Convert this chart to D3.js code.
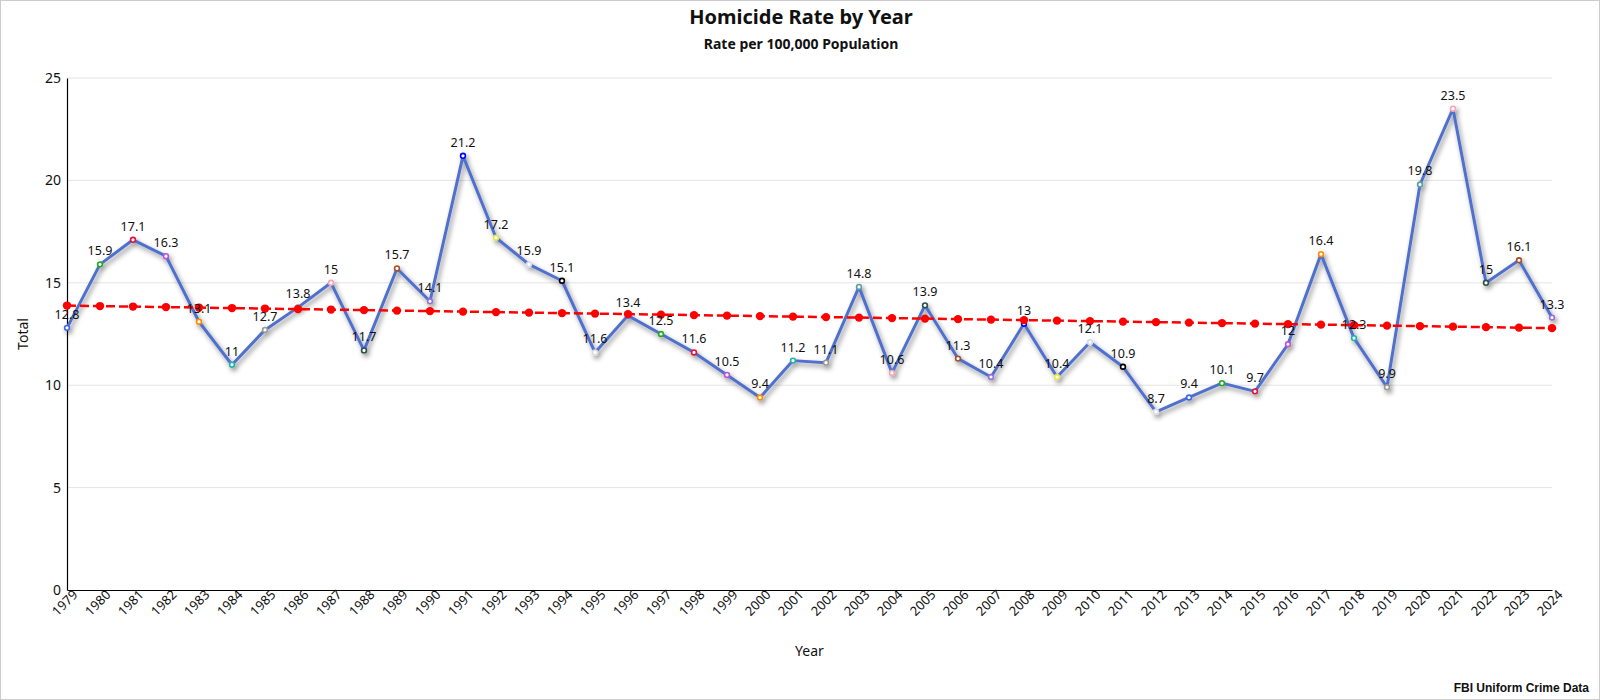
<!DOCTYPE html>
<html>
<head>
<meta charset="utf-8">
<script src="https://cdn.jsdelivr.net/npm/d3@7"></script>
<style>
    html, body { margin: 0; padding: 0; background: #fff; }
    #chart { width: 1598px; height: 698px; border: 1px solid #ccc; }
    text { font-family: "Noto Sans", "Open Sans", sans-serif; fill: #111; }
</style>
</head>
<body>
<div id="chart"></div>
<script>
// Chart data
const years = [1979, 1980, 1981, 1982, 1983, 1984, 1985, 1986, 1987, 1988,
    1989, 1990, 1991, 1992, 1993, 1994, 1995, 1996, 1997, 1998,
    1999, 2000, 2001, 2002, 2003, 2004, 2005, 2006, 2007, 2008,
    2009, 2010, 2011, 2012, 2013, 2014, 2015, 2016, 2017, 2018,
    2019, 2020, 2021, 2022, 2023, 2024];
const rates = [12.8, 15.9, 17.1, 16.3, 13.1, 11, 12.7, 13.8, 15, 11.7,
    15.7, 14.1, 21.2, 17.2, 15.9, 15.1, 11.6, 13.4, 12.5, 11.6,
    10.5, 9.4, 11.2, 11.1, 14.8, 10.6, 13.9, 11.3, 10.4, 13,
    10.4, 12.1, 10.9, 8.7, 9.4, 10.1, 9.7, 12, 16.4, 12.3,
    9.9, 19.8, 23.5, 15, 16.1, 13.3];
const yTicks = [0, 5, 10, 15, 20, 25];

// marker stroke colours, they repeat every 17 points
const markerColors = ['#4169e1', '#22aa22', '#dc143c', '#ba55d3', '#ff8c00', '#20b2aa',
    '#999999', '#5f9ea0', '#f4a6b8', '#2f4f4f', '#a0522d', '#9370db', '#0000ff',
    '#e6e64a', '#d8d8f0', '#000000', '#dddddd'];

const width = 1598, height = 698;
const margin = { top: 77, right: 47, bottom: 109, left: 66 };

const svg = d3.select('#chart').append('svg')
    .attr('width', width)
    .attr('height', height);

const defs = svg.append('defs');
const shadow = defs.append('filter').attr('id', 'shadow')
    .attr('x', '-5%').attr('y', '-5%').attr('width', '110%').attr('height', '115%');
shadow.append('feDropShadow')
    .attr('dx', 2).attr('dy', 3).attr('stdDeviation', 2.5)
    .attr('flood-color', '#000').attr('flood-opacity', 0.45);

const x = d3.scaleLinear()
    .domain([years[0], years[years.length - 1]])
    .range([margin.left, width - margin.right]);
const y = d3.scaleLinear()
    .domain([0, 25])
    .range([height - margin.bottom, margin.top]);

// Titles
svg.append('text')
    .attr('x', 800).attr('y', 23)
    .attr('text-anchor', 'middle')
    .style('font-size', '20px').style('font-weight', 'bold')
    .text('Homicide Rate by Year');
svg.append('text')
    .attr('x', 800).attr('y', 48)
    .attr('text-anchor', 'middle')
    .style('font-size', '14px').style('font-weight', 'bold')
    .text('Rate per 100,000 Population');

// Gridlines
svg.append('g')
    .selectAll('line')
    .data(yTicks.filter(d => d > 0))
    .join('line')
    .attr('x1', x.range()[0]).attr('x2', x.range()[1])
    .attr('y1', d => y(d)).attr('y2', d => y(d))
    .attr('stroke', '#e4e4e4');

// Axes
const yAxis = svg.append('g')
    .attr('transform', `translate(${margin.left},0)`)
    .call(d3.axisLeft(y).tickValues(yTicks).tickSize(0).tickPadding(6));
yAxis.select('.domain').attr('stroke', '#000').attr('stroke-width', 1.2);
yAxis.selectAll('text').style('font-size', '14px').attr('fill', '#111');

const xAxis = svg.append('g')
    .attr('transform', `translate(0,${height - margin.bottom})`)
    .call(d3.axisBottom(x).tickValues(years).tickFormat(d3.format('d')).tickSize(0).tickPadding(4));
xAxis.select('.domain').attr('stroke', '#000').attr('stroke-width', 1.2);
xAxis.selectAll('text')
    .style('font-size', '13px')
    .attr('fill', '#111')
    .attr('text-anchor', 'end')
    .attr('dx', '0.3em')
    .attr('dy', '0.6em')
    .attr('transform', 'rotate(-45)');

// Axis titles
svg.append('text')
    .attr('x', (x.range()[0] + x.range()[1]) / 2).attr('y', 655)
    .attr('text-anchor', 'middle')
    .style('font-size', '14px')
    .text('Year');
svg.append('text')
    .attr('transform', `translate(27,${(y.range()[0] + y.range()[1]) / 2}) rotate(-90)`)
    .attr('text-anchor', 'middle')
    .style('font-size', '14px')
    .text('Total');

// Source note
svg.append('text')
    .attr('x', 1588).attr('y', 691)
    .attr('text-anchor', 'end')
    .style('font-family', '"Liberation Sans", Arial, sans-serif')
    .style('font-size', '12px').style('font-weight', 'bold')
    .text('FBI Uniform Crime Data');

// Main series
const data = years.map((yr, i) => ({ year: yr, value: rates[i], index: i }));
const line = d3.line().x(d => x(d.year)).y(d => y(d.value));

const series = svg.append('g').attr('filter', 'url(#shadow)');
series.append('path')
    .datum(data)
    .attr('d', line)
    .attr('fill', 'none')
    .attr('stroke', '#5070cc')
    .attr('stroke-width', 3)
    .attr('stroke-linejoin', 'round');
series.selectAll('circle')
    .data(data)
    .join('circle')
    .attr('cx', d => x(d.year))
    .attr('cy', d => y(d.value))
    .attr('r', 2.4)
    .attr('fill', '#fff')
    .attr('stroke', d => markerColors[d.index % markerColors.length])
    .attr('stroke-width', 1.6);

// Linear trend (least squares over the series)
const meanX = d3.mean(years), meanY = d3.mean(rates);
const slope = d3.sum(years, (yr, i) => (yr - meanX) * (rates[i] - meanY)) /
    d3.sum(years, yr => (yr - meanX) * (yr - meanX));
const trend = years.map(yr => ({ year: yr, value: meanY + slope * (yr - meanX) }));

const trendG = svg.append('g');
trendG.append('path')
    .datum(trend)
    .attr('d', line)
    .attr('fill', 'none')
    .attr('stroke', '#ff0000')
    .attr('stroke-width', 2.5)
    .attr('stroke-dasharray', '9,4');
trendG.selectAll('circle')
    .data(trend)
    .join('circle')
    .attr('cx', d => x(d.year))
    .attr('cy', d => y(d.value))
    .attr('r', 4.2)
    .attr('fill', '#ff0000');

// Value labels
svg.append('g')
    .selectAll('text')
    .data(data)
    .join('text')
    .attr('x', d => x(d.year))
    .attr('y', d => y(d.value) - 9)
    .attr('text-anchor', 'middle')
    .style('font-size', '12.5px')
    .text(d => d.value);
</script>
</body>
</html>
